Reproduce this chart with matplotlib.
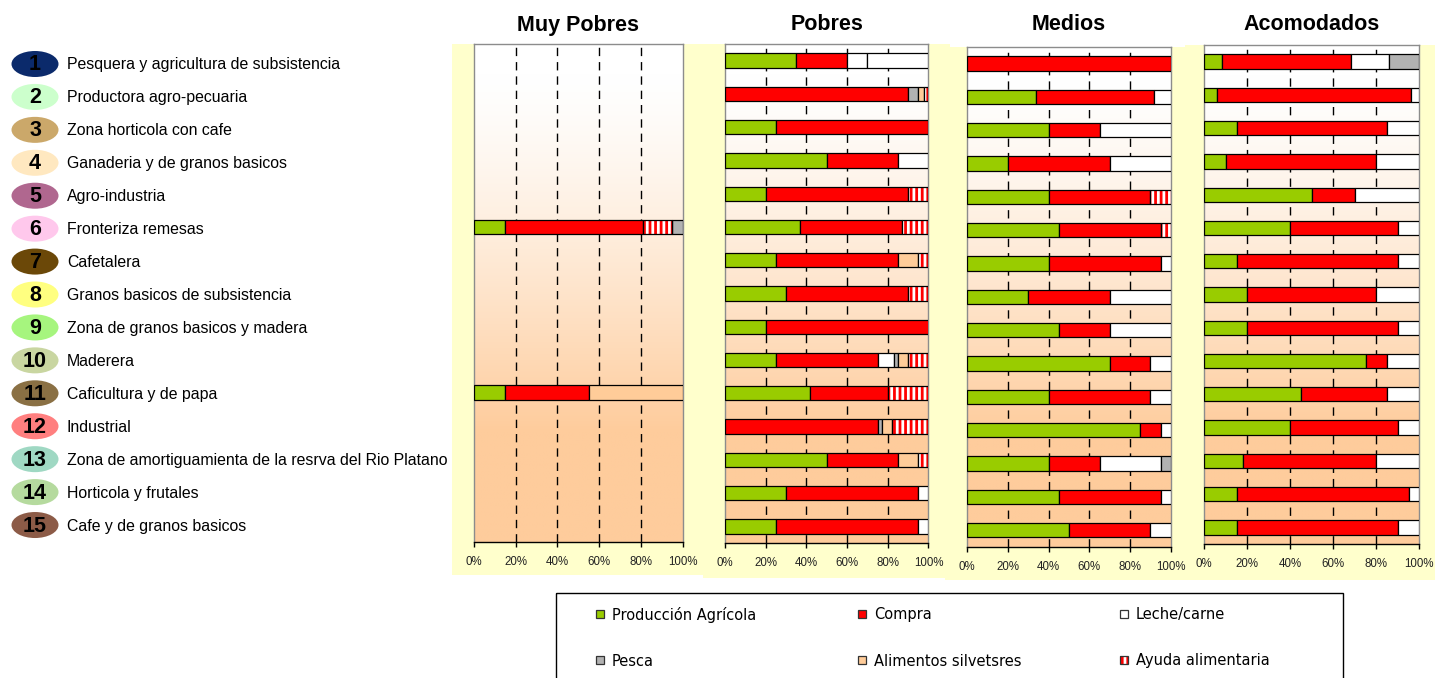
import numpy as np
import matplotlib
matplotlib.use("Agg")
import matplotlib.pyplot as plt
from matplotlib.patches import Rectangle, Ellipse
from matplotlib.colors import to_rgb

# ---------------- data ----------------
zones = [
    "Pesquera y agricultura de subsistencia",
    "Productora agro-pecuaria",
    "Zona horticola con cafe",
    "Ganaderia y de granos basicos",
    "Agro-industria",
    "Fronteriza remesas",
    "Cafetalera",
    "Granos basicos de subsistencia",
    "Zona de granos basicos y madera",
    "Maderera",
    "Caficultura y de papa",
    "Industrial",
    "Zona de amortiguamienta de la resrva del Rio Platano",
    "Horticola y frutales",
    "Cafe y de granos basicos",
]
zone_colors = ["#0B2A6B", "#CCFFCC", "#CBA86A", "#FFE8C0", "#B0678F",
               "#FFC8EC", "#6B4808", "#FFFF80", "#A6F57E", "#C9D6A1",
               "#8A7044", "#FF7F7F", "#9FD8C3", "#B5DA9E", "#8C5B47"]

panel_titles = ["Muy Pobres", "Pobres", "Medios", "Acomodados"]
x_ticks = [0, 20, 40, 60, 80, 100]
x_ticklabels = ["0%", "20%", "40%", "60%", "80%", "100%"]

series_keys = ["agricola", "compra", "leche", "pesca", "silvestres", "ayuda"]
series_labels = ["Producción Agrícola", "Compra", "Leche/carne",
                 "Pesca", "Alimentos silvetsres", "Ayuda alimentaria"]
series_colors = {"agricola": "#99CC00", "compra": "#FF0000", "leche": "#FFFFFF",
                 "pesca": "#B2B2B2", "silvestres": "#FFCC99", "ayuda": "#FF0000",
                 "otros": "#FFFFFF"}

muy_pobres_agricola   = [0, 0, 0, 0, 0, 15, 0, 0, 0, 0, 15, 0, 0, 0, 0]
muy_pobres_compra     = [0, 0, 0, 0, 0, 66, 0, 0, 0, 0, 40, 0, 0, 0, 0]
muy_pobres_leche      = [0, 0, 0, 0, 0, 0, 0, 0, 0, 0, 0, 0, 0, 0, 0]
muy_pobres_pesca      = [0, 0, 0, 0, 0, 5, 0, 0, 0, 0, 0, 0, 0, 0, 0]
muy_pobres_silvestres = [0, 0, 0, 0, 0, 0, 0, 0, 0, 0, 45, 0, 0, 0, 0]
muy_pobres_ayuda      = [0, 0, 0, 0, 0, 14, 0, 0, 0, 0, 0, 0, 0, 0, 0]

pobres_agricola   = [35, 0, 25, 50, 20, 37, 25, 30, 20, 25, 42, 0, 50, 30, 25]
pobres_compra     = [25, 90, 75, 35, 70, 50, 60, 60, 80, 50, 38, 75, 35, 65, 70]
pobres_leche      = [10, 0, 0, 15, 0, 0, 0, 0, 0, 8, 0, 0, 0, 5, 5]
pobres_pesca      = [0, 5, 0, 0, 0, 0, 0, 0, 0, 2, 0, 2, 0, 0, 0]
pobres_silvestres = [0, 3, 0, 0, 0, 0, 10, 0, 0, 5, 0, 5, 10, 0, 0]
pobres_ayuda      = [0, 2, 0, 0, 10, 13, 5, 10, 0, 10, 20, 18, 5, 0, 0]
pobres_otros      = [30, 0, 0, 0, 0, 0, 0, 0, 0, 0, 0, 0, 0, 0, 0]

medios_agricola   = [0, 34, 40, 20, 40, 45, 40, 30, 45, 70, 40, 85, 40, 45, 50]
medios_compra     = [100, 58, 25, 50, 50, 50, 55, 40, 25, 20, 50, 10, 25, 50, 40]
medios_leche      = [0, 8, 35, 30, 0, 0, 5, 30, 30, 10, 10, 5, 30, 5, 10]
medios_pesca      = [0, 0, 0, 0, 0, 0, 0, 0, 0, 0, 0, 0, 5, 0, 0]
medios_silvestres = [0, 0, 0, 0, 0, 0, 0, 0, 0, 0, 0, 0, 0, 0, 0]
medios_ayuda      = [0, 0, 0, 0, 10, 5, 0, 0, 0, 0, 0, 0, 0, 0, 0]

acomodados_agricola   = [8, 6, 15, 10, 50, 40, 15, 20, 20, 75, 45, 40, 18, 15, 15]
acomodados_compra     = [60, 90, 70, 70, 20, 50, 75, 60, 70, 10, 40, 50, 62, 80, 75]
acomodados_leche      = [18, 4, 15, 20, 30, 10, 10, 20, 10, 15, 15, 10, 20, 5, 10]
acomodados_pesca      = [14, 0, 0, 0, 0, 0, 0, 0, 0, 0, 0, 0, 0, 0, 0]
acomodados_silvestres = [0, 0, 0, 0, 0, 0, 0, 0, 0, 0, 0, 0, 0, 0, 0]
acomodados_ayuda      = [0, 0, 0, 0, 0, 0, 0, 0, 0, 0, 0, 0, 0, 0, 0]

panel_data = [
    {"agricola": muy_pobres_agricola, "compra": muy_pobres_compra, "leche": muy_pobres_leche,
     "pesca": muy_pobres_pesca, "silvestres": muy_pobres_silvestres, "ayuda": muy_pobres_ayuda},
    {"agricola": pobres_agricola, "compra": pobres_compra, "leche": pobres_leche,
     "pesca": pobres_pesca, "silvestres": pobres_silvestres, "ayuda": pobres_ayuda,
     "otros": pobres_otros},
    {"agricola": medios_agricola, "compra": medios_compra, "leche": medios_leche,
     "pesca": medios_pesca, "silvestres": medios_silvestres, "ayuda": medios_ayuda},
    {"agricola": acomodados_agricola, "compra": acomodados_compra, "leche": acomodados_leche,
     "pesca": acomodados_pesca, "silvestres": acomodados_silvestres, "ayuda": acomodados_ayuda},
]
stack_orders = [
    ["agricola", "compra", "leche", "silvestres", "ayuda", "pesca"],
    ["agricola", "compra", "leche", "pesca", "silvestres", "ayuda", "otros"],
    ["agricola", "compra", "leche", "pesca", "silvestres", "ayuda"],
    ["agricola", "compra", "leche", "pesca", "silvestres", "ayuda"],
]

# ---------------- layout (pixels) ----------------
W, H, DPI = 1435, 678, 100
panel_px = [(474, 44.3, 682.5, 541.7), (725, 44, 928.5, 543),
            (967.3, 46.7, 1170.7, 546.7), (1204.3, 45, 1419.3, 544)]
yellow_px = [(452, 44, 703, 575), (703, 44, 950, 578),
             (945, 47, 1187, 580), (1185, 45, 1435, 580)]
YELLOW = "#FFFFCC"
PEACH = "#FECC9C"
bar_h = 0.43

plt.rcParams["hatch.linewidth"] = 2.0
fig = plt.figure(figsize=(W / DPI, H / DPI), dpi=DPI)

bg = fig.add_axes([0, 0, 1, 1], zorder=0)
bg.set_xlim(0, W)
bg.set_ylim(H, 0)
bg.axis("off")

for (l, t, r, b) in yellow_px:
    bg.add_patch(Rectangle((l, t), r - l, b - t, facecolor=YELLOW, edgecolor="none"))

# zone labels with numbered ellipses
for i, (name, col) in enumerate(zip(zones, zone_colors)):
    yc = 64 + 32.93 * i
    bg.add_patch(Ellipse((35, yc), 47, 26, facecolor=col, edgecolor="none"))
    bg.text(35, yc + 1, str(i + 1), ha="center", va="center", fontsize=15.5,
            fontweight="bold", family="Liberation Sans", color="black")
    bg.text(67, yc + 1, name, ha="left", va="center", fontsize=11.4,
            family="Liberation Sans", color="black")

# gradient image
n = 256
t = np.linspace(0, 1, n)
frac = np.clip((t - 0.06) / 0.72, 0, 1) ** 1.3
c0 = np.array(to_rgb("#FFFFFF"))
c1 = np.array(to_rgb(PEACH))
grad = (c0[None, :] * (1 - frac[:, None]) + c1[None, :] * frac[:, None])[:, None, :]

y = np.arange(len(zones))
for p, (title, data, order) in enumerate(zip(panel_titles, panel_data, stack_orders)):
    l, tp, r, b = panel_px[p]
    ax = fig.add_axes([l / W, 1 - b / H, (r - l) / W, (b - tp) / H], zorder=2)
    ax.imshow(grad, extent=(0, 100, len(zones) - 0.5, -0.5), aspect="auto",
              origin="upper", zorder=0, interpolation="bilinear")
    for xv in x_ticks[1:-1]:
        ax.axvline(xv, color="black", lw=1.0, dashes=(6, 4.3), zorder=1)
    left = np.zeros(len(zones))
    for key in order:
        vals = np.array(data[key], dtype=float)
        m = vals > 0
        if m.any():
            if key == "ayuda":
                ax.barh(y[m], vals[m], left=left[m], height=bar_h, color="#FF0000",
                        edgecolor="white", hatch="|||", linewidth=0, zorder=3)
                ax.barh(y[m], vals[m], left=left[m], height=bar_h, facecolor="none",
                        edgecolor="black", linewidth=0.9, zorder=4)
            else:
                ax.barh(y[m], vals[m], left=left[m], height=bar_h,
                        color=series_colors[key], edgecolor="black", linewidth=0.9, zorder=3)
        left += vals
    ax.set_xlim(0, 100)
    ax.set_ylim(len(zones) - 0.5, -0.5)
    ax.set_yticks([])
    ax.set_xticks(x_ticks)
    ax.set_xticklabels(x_ticklabels, fontsize=8.3, family="Liberation Sans", color="#222222")
    ax.tick_params(axis="x", direction="out", length=3.5, width=1, color="black", pad=6.5)
    for s in ["left", "right", "top"]:
        ax.spines[s].set_color("#8C8C8C")
        ax.spines[s].set_linewidth(1.0)
    ax.spines["bottom"].set_color("black")
    ax.spines["bottom"].set_linewidth(1.0)
    fig.text(((l + r) / 2) / W, 1 - 25 / H, title, ha="center", va="center",
             fontsize=15.5, fontweight="bold", family="Liberation Sans")

# legend
bg.add_patch(Rectangle((556, 593), 787, 130, fill=False, edgecolor="black", linewidth=1.0))
leg_cols = [600, 862, 1124]
leg_rows = [614, 660]
for k, (key, label) in enumerate(zip(series_keys, series_labels)):
    cx = leg_cols[k % 3]
    cy = leg_rows[k // 3]
    if key == "ayuda":
        bg.add_patch(Rectangle((cx - 4, cy - 4), 8, 8, facecolor="#FF0000",
                               edgecolor="white", hatch="|", linewidth=0))
        bg.add_patch(Rectangle((cx - 4, cy - 4), 8, 8, facecolor="none",
                               edgecolor="#333333", linewidth=0.9))
    else:
        bg.add_patch(Rectangle((cx - 4, cy - 4), 8, 8, facecolor=series_colors[key],
                               edgecolor="#333333", linewidth=0.9))
    bg.text(cx + 12, cy + 1, label, ha="left", va="center", fontsize=10.5,
            family="DejaVu Sans", color="black")

fig.savefig("out.png", dpi=DPI)
